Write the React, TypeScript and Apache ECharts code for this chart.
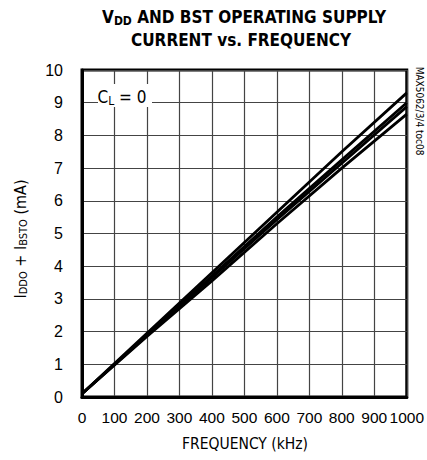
import React, { useEffect, useRef } from "react";
import * as echarts from "echarts";

// Frequency (kHz) sample points
const frequencies = [0, 200, 400, 600, 800, 1000];
// I_DDO + I_BSTO (mA) for four curves
const curveA = [0.1, 1.95, 3.8, 5.65, 7.5, 9.3];
const curveB = [0.1, 1.9, 3.7, 5.5, 7.25, 9.0];
const curveC = [0.1, 1.88, 3.65, 5.42, 7.15, 8.88];
const curveD = [0.1, 1.85, 3.55, 5.3, 7.0, 8.65];
const curves = [curveA, curveB, curveC, curveD];

const NARROW = '"Liberation Sans Narrow", "DejaVu Sans Condensed", "Liberation Sans", Arial, sans-serif';
const SANS = '"Liberation Sans", Arial, sans-serif';

export default function App() {
  const ref = useRef<HTMLDivElement>(null);
  useEffect(() => {
    if (!ref.current) return;
    const chart = echarts.init(ref.current, undefined, { renderer: "svg" });
    const option: any = {
      animation: false,
      backgroundColor: "#ffffff",
      grid: {
        left: 82,
        top: 70,
        right: 18,
        bottom: 63,
        show: true,
        borderColor: "#000",
        borderWidth: 3,
        backgroundColor: "transparent",
        containLabel: false,
      },
      xAxis: {
        type: "value",
        min: 0,
        max: 1000,
        interval: 100,
        axisLine: { show: true, lineStyle: { color: "#000", width: 3 } },
        axisTick: { show: false },
        axisLabel: {
          color: "#000",
          fontSize: 15.5,
          fontFamily: SANS,
          margin: 12,
          formatter: (v: number) => String(v),
          showMaxLabel: true,
          showMinLabel: true,
          hideOverlap: false,
        },
        splitLine: { show: true, lineStyle: { color: "#444", width: 1.2 } },
      },
      yAxis: {
        type: "value",
        min: 0,
        max: 10,
        interval: 1,
        axisLine: { show: true, lineStyle: { color: "#000", width: 3 } },
        axisTick: { show: false },
        axisLabel: { color: "#000", fontSize: 16, fontFamily: SANS, margin: 19 },
        splitLine: { show: true, lineStyle: { color: "#444", width: 1.2 } },
      },
      series: curves.map((c) => ({
        type: "line",
        data: frequencies.map((f, i) => [f, c[i]]),
        showSymbol: false,
        symbol: "none",
        lineStyle: { color: "#000", width: 2.8 },
        z: 5,
      })),
      graphic: [
        {
          type: "text",
          x: 244,
          y: 17,
          style: {
            text: "{a|V}{s|DD}{a| AND BST OPERATING SUPPLY}",
            align: "center",
            verticalAlign: "middle",
            rich: {
              a: { fontSize: 17, fontWeight: "bold", fontFamily: NARROW, fill: "#000", lineHeight: 22, verticalAlign: "middle" },
              s: { fontSize: 12, fontWeight: "bold", fontFamily: NARROW, fill: "#000", padding: [7, 0, 0, 0], verticalAlign: "middle" },
            },
          },
        },
        {
          type: "text",
          x: 241,
          y: 40,
          style: {
            text: "CURRENT vs. FREQUENCY",
            align: "center",
            verticalAlign: "middle",
            fontSize: 17,
            fontWeight: "bold",
            fontFamily: NARROW,
            fill: "#000",
          },
        },
        {
          type: "text",
          x: 20,
          y: 239,
          rotation: Math.PI / 2,
          style: {
            text: "{a|I}{s|DDO}{a| + I}{s|BSTO}{a| (mA)}",
            align: "center",
            verticalAlign: "middle",
            rich: {
              a: { fontSize: 16, fontFamily: NARROW, fill: "#000", lineHeight: 20, verticalAlign: "middle" },
              s: { fontSize: 11, fontFamily: NARROW, fill: "#000", padding: [6, 0, 0, 0], verticalAlign: "middle" },
            },
          },
        },
        {
          type: "text",
          x: 245,
          y: 444,
          style: {
            text: "FREQUENCY (kHz)",
            align: "center",
            verticalAlign: "middle",
            fontSize: 15.5,
            fontFamily: NARROW,
            fill: "#000",
          },
        },
        {
          type: "text",
          x: 419,
          y: 111,
          rotation: -Math.PI / 2,
          style: {
            text: "MAX5062/3/4 toc08",
            align: "center",
            verticalAlign: "middle",
            fontSize: 10,
            fontFamily: NARROW,
            fill: "#000",
          },
        },
        {
          type: "rect",
          shape: { x: 98, y: 84, width: 54, height: 23 },
          style: { fill: "#fff" },
          z: 10,
        },
        {
          type: "text",
          x: 122,
          y: 97,
          z: 11,
          style: {
            text: "{a|C}{s|L}{a| = 0}",
            align: "center",
            verticalAlign: "middle",
            rich: {
              a: { fontSize: 17, fontFamily: NARROW, fill: "#000", lineHeight: 20, verticalAlign: "middle" },
              s: { fontSize: 12, fontFamily: NARROW, fill: "#000", padding: [7, 0, 0, 0], verticalAlign: "middle" },
            },
          },
        },
      ],
    };
    chart.setOption(option);
    return () => chart.dispose();
  }, []);
  return (
    <div
      ref={ref}
      style={{ position: "fixed", left: 0, top: 0, width: 427, height: 460, background: "#fff" }}
    />
  );
}
